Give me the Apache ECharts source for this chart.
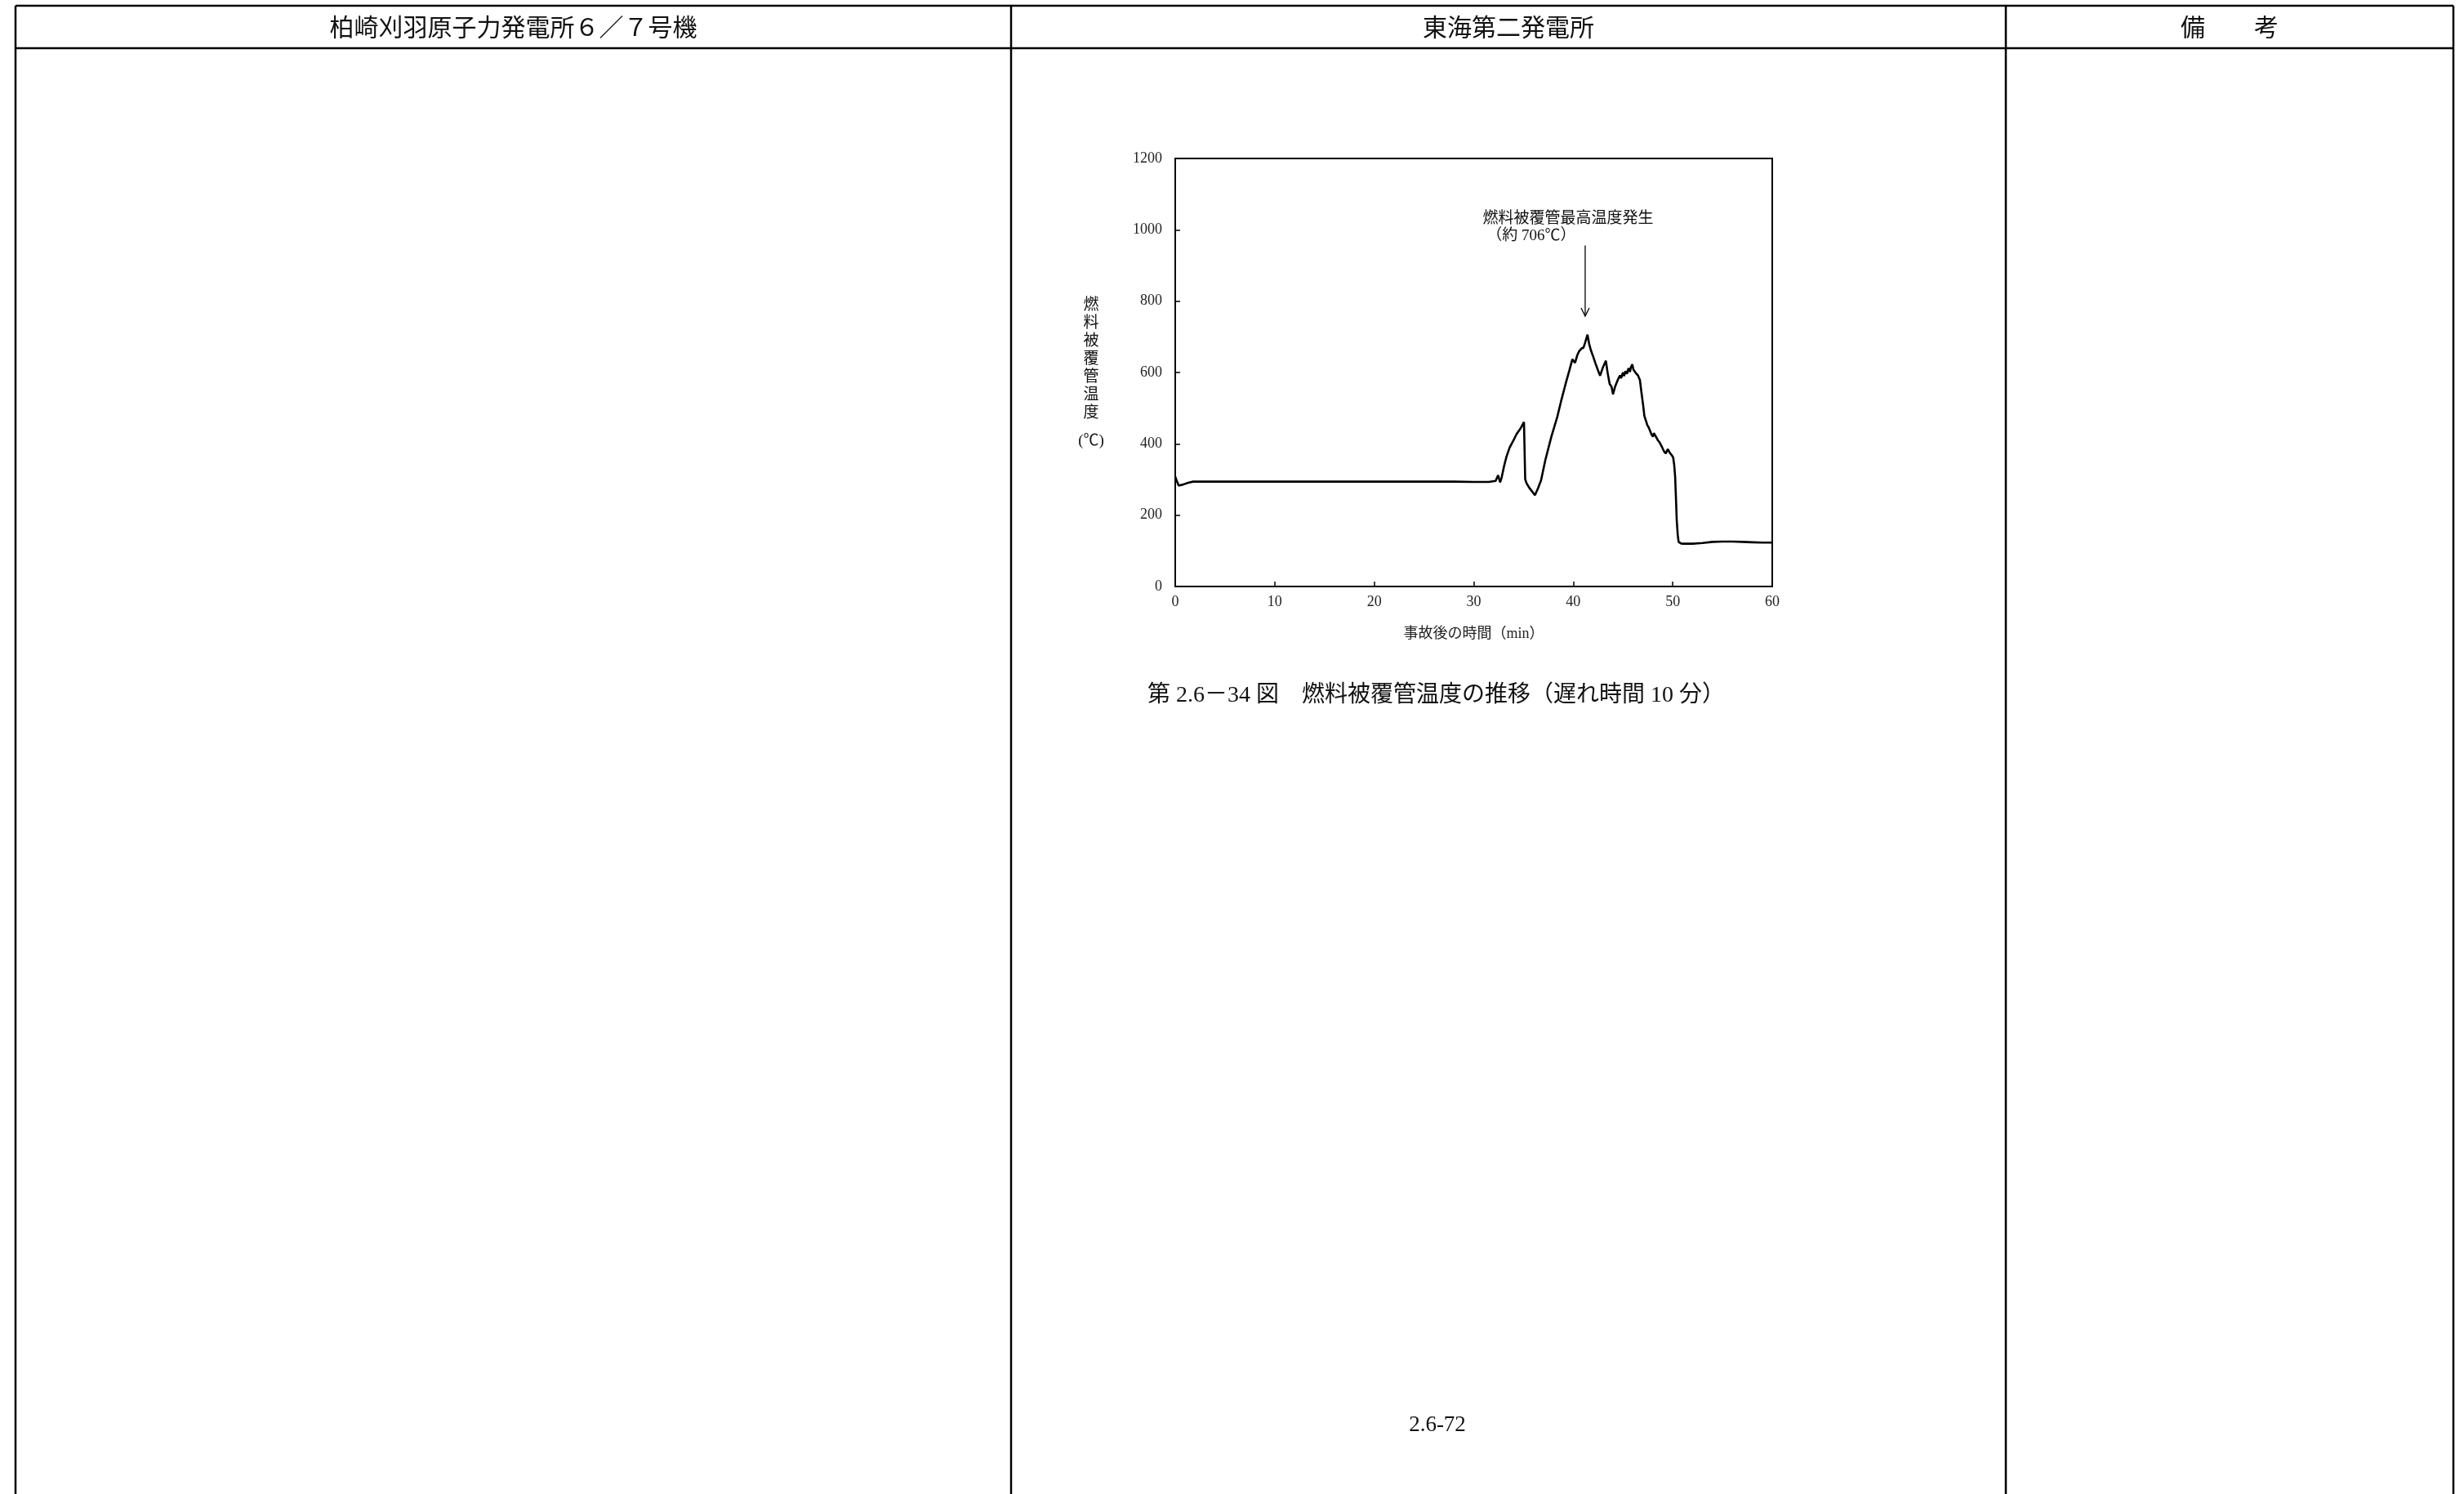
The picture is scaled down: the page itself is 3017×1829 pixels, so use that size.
<!DOCTYPE html>
<html>
<head>
<meta charset="utf-8">
<script src="https://cdn.jsdelivr.net/npm/echarts@6/dist/echarts.min.js"></script>
<style>
  html, body { margin: 0; padding: 0; background: #fff; }
  #main { width: 3017px; height: 1829px; }
</style>
</head>
<body>
<div id="main"></div>
<script>
// 燃料被覆管温度の推移（遅れ時間10分） 読み取り値
var timeMin = [0, 0.1, 0.35, 0.8, 1.3, 1.8, 5, 10, 15, 20, 25, 28, 30, 31.5, 32.2, 32.45, 32.65, 32.8,
  33.06, 33.3, 33.6, 34.0, 34.3, 34.7, 35.05, 35.17, 35.3, 35.55, 35.85, 36.15, 36.45, 36.76, 37.2, 37.8,
  38.4, 38.8, 39.23, 39.6, 39.91, 40.05, 40.18, 40.4, 40.6, 40.85, 41.02, 41.2, 41.43, 41.6, 41.8, 42.0,
  42.24, 42.5, 42.7, 42.95, 43.28, 43.45, 43.66, 43.85, 44.0, 44.2, 44.37, 44.55, 44.7, 44.8, 45.0, 45.1,
  45.25, 45.4, 45.55, 45.7, 45.8, 45.93, 46.05, 46.15, 46.3, 46.5, 46.7, 46.85, 47.03, 47.15, 47.3, 47.45,
  47.58, 47.7, 47.85, 48.0, 48.1, 48.21, 48.35, 48.5, 48.68, 48.9, 49.1, 49.3, 49.5, 49.7, 49.9, 50.04,
  50.15, 50.24, 50.32, 50.4, 50.5, 50.59, 50.8, 51.0, 52, 53, 54, 55, 56, 57, 58, 59, 60];
var tempC = [308, 300, 283, 286, 291, 294, 294, 294, 294, 294, 294, 294, 293, 293, 296, 312, 292, 305,
  339, 365, 389, 410, 427, 443, 461, 301, 290, 278, 267, 256, 275, 297, 355, 420,
  476, 522, 568, 605, 637, 635, 627, 648, 660, 668, 669, 684, 706, 680, 660, 645,
  625, 605, 591, 612, 633, 600, 568, 560, 539, 560, 572, 584, 592, 584, 600, 590,
  604, 596, 612, 602, 615, 623, 608, 612, 598, 592, 579, 545, 507, 478, 465, 452,
  446, 438, 427, 420, 430, 434, 418, 410, 404, 392, 380, 373, 385, 375, 368, 362,
  340, 308, 250, 186, 145, 125, 121, 120, 120, 122, 125, 126, 126, 125, 124, 123, 123];

// 軸の範囲
var xRange = [0, 60, 10];
var yRange = [0, 1200, 200];

// 表の見出し
var headers = ['柏崎刈羽原子力発電所６／７号機', '東海第二発電所', '備　　考'];
var yName = ['燃', '料', '被', '覆', '管', '温', '度'];
var noteLines = ['燃料被覆管最高温度発生', '（約 706℃）'];
var notePeak = [41.2, 706];
var caption = '第 2.6－34 図　燃料被覆管温度の推移（遅れ時間 10 分）';
var pageNo = '2.6-72';

var serif = "'Liberation Serif', 'Noto Sans CJK JP'";
var jp = "'Noto Sans CJK JP'";

var chart = echarts.init(document.getElementById('main'));
var lineData = timeMin.map(function (t, i) { return [t, tempC[i]]; });

chart.setOption({
  animation: false,
  backgroundColor: '#fff',
  grid: {
    left: 1439, top: 194, width: 731, height: 524,
    show: true, borderColor: '#000', borderWidth: 2, backgroundColor: 'transparent'
  },
  xAxis: {
    type: 'value', min: xRange[0], max: xRange[1], interval: xRange[2],
    axisLine: { lineStyle: { color: '#000', width: 2 } },
    axisTick: { inside: true, length: 6, lineStyle: { color: '#000', width: 1.5 } },
    axisLabel: { color: '#222', fontSize: 18, fontFamily: serif, margin: 10 },
    splitLine: { show: false },
    name: '事故後の時間（min）', nameLocation: 'middle', nameGap: 49,
    nameTextStyle: { color: '#222', fontSize: 18, fontFamily: serif }
  },
  yAxis: {
    type: 'value', min: yRange[0], max: yRange[1], interval: yRange[2],
    axisLine: { show: true, lineStyle: { color: '#000', width: 2 } },
    axisTick: { show: true, inside: true, length: 6, lineStyle: { color: '#000', width: 1.5 } },
    axisLabel: { color: '#222', fontSize: 18, fontFamily: serif, margin: 16,
      formatter: function (v) { return String(v); } },
    splitLine: { show: false }
  },
  series: [{
    type: 'line',
    data: lineData,
    showSymbol: false,
    lineStyle: { color: '#000', width: 2.6 },
    z: 5
  }]
});

// 表の罫線と文字
var g = [];
var lw = 2.5;
function hline(y, x1, x2) { g.push({ type: 'line', shape: { x1: x1, y1: y, x2: x2, y2: y }, style: { stroke: '#000', lineWidth: lw } }); }
function vline(x, y1, y2) { g.push({ type: 'line', shape: { x1: x, y1: y1, x2: x, y2: y2 }, style: { stroke: '#000', lineWidth: lw } }); }
function txt(s, x, y, size, fam, align, valign, extra) {
  var st = { text: s, font: size + 'px ' + fam, fill: '#111', align: align, verticalAlign: valign,
    textAlign: align, textVerticalAlign: valign };
  if (extra) { for (var k in extra) st[k] = extra[k]; }
  g.push({ type: 'text', x: x, y: y, style: st, z: 10 });
}

var colX = [19, 1238, 2456, 3004];
hline(7, colX[0], colX[3]);
hline(59, colX[0], colX[3]);
colX.forEach(function (x) { vline(x, 7, 1829); });
txt(headers[0], (colX[0] + colX[1]) / 2, 33, 30, jp, 'center', 'middle');
txt(headers[1], (colX[1] + colX[2]) / 2, 33, 30, jp, 'center', 'middle');
txt(headers[2], (colX[2] + colX[3]) / 2, 33, 30, jp, 'center', 'middle');

// 縦軸名
txt(yName.join('\n'), 1336, 361, 19, jp, 'center', 'top', { lineHeight: 22 });
txt('(℃)', 1336, 540, 19, serif, 'center', 'middle');

// 最高温度の注記
var pTop = chart.convertToPixel({ gridIndex: 0 }, [notePeak[0], 956]);
var pTip = chart.convertToPixel({ gridIndex: 0 }, [notePeak[0], 758]);
var pTxt1 = chart.convertToPixel({ gridIndex: 0 }, [30.9, 1036]);
var pTxt2 = chart.convertToPixel({ gridIndex: 0 }, [31.3, 983]);
txt(noteLines[0], pTxt1[0], pTxt1[1], 19, jp, 'left', 'middle');
txt(noteLines[1], pTxt2[0], pTxt2[1], 19, serif, 'left', 'middle');
g.push({ type: 'line', shape: { x1: pTop[0], y1: pTop[1], x2: pTip[0], y2: pTip[1] }, style: { stroke: '#000', lineWidth: 1.3 }, z: 10 });
g.push({ type: 'polyline', shape: { points: [[pTip[0] - 5, pTip[1] - 10], [pTip[0], pTip[1]], [pTip[0] + 5, pTip[1] - 10]] },
  style: { stroke: '#000', lineWidth: 1.3, fill: null }, z: 10 });

// 図番号とページ番号
txt(caption, 1405, 852, 28, serif, 'left', 'middle');
txt(pageNo, 1760, 1745, 27, serif, 'center', 'middle');

chart.setOption({ graphic: g });
</script>
</body>
</html>
